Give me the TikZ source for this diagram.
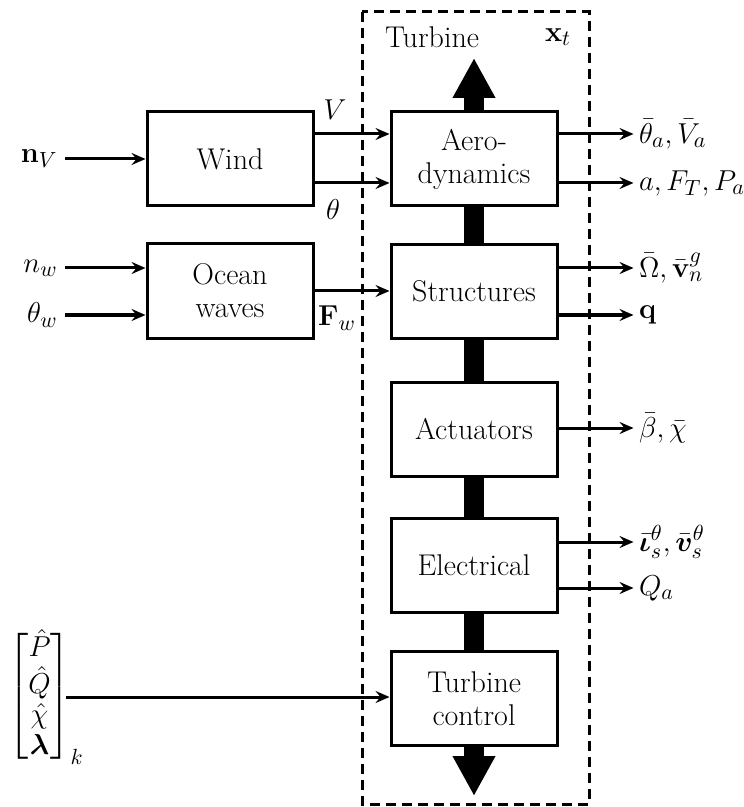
\documentclass[tikz,border=0pt]{standalone}
\usepackage{amsmath,amssymb,bm}
\usetikzlibrary{arrows.meta,calc,backgrounds}
\begin{document}
\begin{tikzpicture}[x=0.5pt,y=-0.5pt,
  font=\fontsize{15}{16.5}\selectfont,
  blk/.style={draw,line width=1.5pt,fill=white,minimum width=83pt,minimum height=47pt,align=center,inner sep=2pt},
  arr/.style={line width=1.5pt,-{Stealth[length=7pt,width=6pt,inset=2.5pt]}},
  bar/.style={line width=10pt},
  bigtip/.style={line width=10pt,-{Triangle[length=20pt,width=20pt]}},
  lbl/.style={inner sep=2pt}]
\useasboundingbox (0,0) rectangle (743,807);
% dashed turbine boundary
\draw[line width=1.5pt,dash pattern=on 5pt off 3pt] (362,12) rectangle (589,804);
\node[lbl] (turb) at (432,37) {Turbine};
\node[lbl] (xt) at (558,37) {$\mathbf{x}_t$};
% central blocks
\node[blk] (aero) at (474,159) {Aero-\\dynamics};
\node[blk] (struct) at (474,291.5) {Structures};
\node[blk] (act) at (474,429) {Actuators};
\node[blk] (elec) at (474,565) {Electrical};
\node[blk] (ctrl) at (474,698.5) {Turbine\\control};
% left blocks
\node[blk] (wind) at (230,159) {Wind};
\node[blk] (ocean) at (230,291) {Ocean\\waves};
% thick bar behind the blocks
\coordinate (toptip) at (474,58);
\coordinate (bottip) at (474,796);
\begin{pgfonlayer}{background}
\draw[bar] (aero.center) -- (ctrl.center);
\draw[bigtip] (aero.center) -- (toptip);
\draw[bigtip] (ctrl.center) -- (bottip);
\end{pgfonlayer}
% wind -> aero
\draw[arr] ([yshift=12.5pt]wind.east) -- ([yshift=12.5pt]aero.west);
\draw[arr] ([yshift=-12pt]wind.east) -- ([yshift=-12pt]aero.west);
\node[lbl] (Vl) at (335,110) {$V$};
\node[lbl] (thl) at (333,210) {$\theta$};
% ocean -> struct
\draw[arr] (ocean.east) -- (ocean.east -| struct.west);
\node[lbl] (Fw) at (337,318) {$\mathbf{F}_w$};
% inputs
\node[lbl,anchor=east] (nV) at (62,159) {$\mathbf{n}_V$};
\draw[arr] ($(nV.east)+(3,0)$) -- (wind.west);
\node[lbl,anchor=east] (nw) at (62,268) {$n_w$};
\node[lbl,anchor=east] (thw) at (62,315) {$\theta_w$};
\draw[arr] ($(nw.east)+(3,0)$) -- (nw.east -| ocean.west);
\draw[arr] ($(thw.east)+(3,0)$) -- (thw.east -| ocean.west);
\node[inner sep=0pt,anchor=west] (mat) at (8,697) {$\renewcommand{\arraystretch}{0.92}\left[\begin{matrix}\hat{P}\\ \hat{Q}\\ \hat{\chi}\\ \boldsymbol{\lambda}\end{matrix}\right]_k$};
\coordinate (matout) at (66,697);
\draw[arr] (matout) -- (matout -| ctrl.west);
% outputs
\draw[arr] ([yshift=12.5pt]aero.east) -- ++(75,0) node[right,lbl] (o1) {$\bar{\theta}_a,\bar{V}_a$};
\draw[arr] ([yshift=-12pt]aero.east) -- ++(75,0) node[right,lbl] (o2) {$a,F_T,P_a$};
\draw[arr] ([yshift=11.75pt]struct.east) -- ++(75,0) node[right,lbl] (o3) {$\bar{\Omega},\bar{\mathbf{v}}_n^g$};
\draw[arr] ([yshift=-11.75pt]struct.east) -- ++(75,0) node[right,lbl] (o4) {$\mathbf{q}$};
\draw[arr] ([yshift=0.5pt]act.east) -- ++(75,0) node[right,lbl] (o5) {$\bar{\beta},\bar{\chi}$};
\draw[arr] ([yshift=11.5pt]elec.east) -- ++(75,0) node[right,lbl] (o6) {$\bar{\boldsymbol{\iota}}_s^\theta,\bar{\boldsymbol{v}}_s^\theta$};
\draw[arr] ([yshift=-11.5pt]elec.east) -- ++(75,0) node[right,lbl] (o7) {$Q_a$};
\end{tikzpicture}
\end{document}
